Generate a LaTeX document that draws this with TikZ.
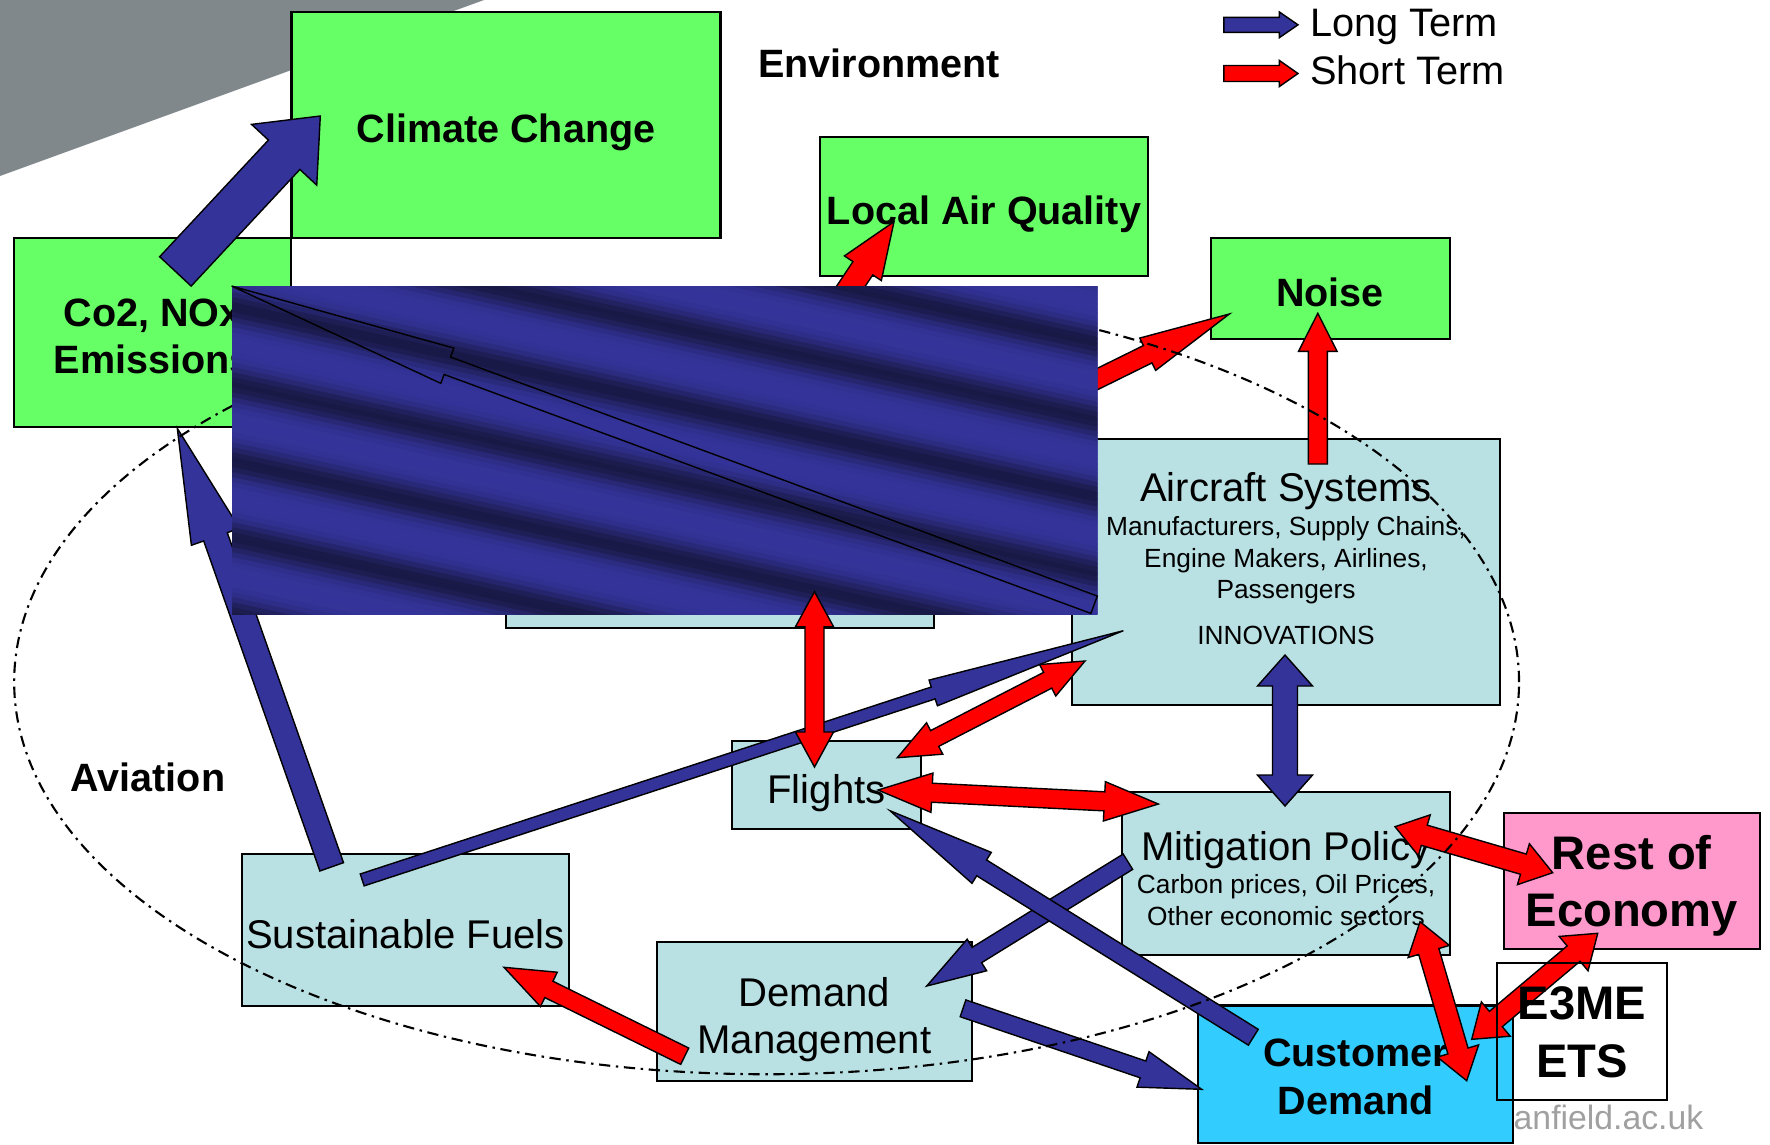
\documentclass[tikz,border=0pt]{standalone}
\usepackage{fontspec}
\setmainfont{Liberation Sans}
\usepackage{xcolor}
\usepackage{tikz}
\usetikzlibrary{calc}
\pgfdeclarelayer{nodelayer}
\pgfdeclarelayer{edgelayer}
\pgfsetlayers{nodelayer,edgelayer,main}
\definecolor{envgreen}{RGB}{102,255,102}
\definecolor{aviblue}{RGB}{185,224,227}
\definecolor{custcyan}{RGB}{51,204,255}
\definecolor{econpink}{RGB}{255,153,204}
\definecolor{longblue}{RGB}{51,51,153}
\definecolor{shortred}{RGB}{255,0,0}
\definecolor{slidegray}{RGB}{128,136,140}
\definecolor{banddark}{RGB}{25,25,70}
\definecolor{webgray}{RGB}{160,160,160}
\tikzset{
	fat shaft/.code={\pgfmathsetlengthmacro\fatshaft{#1*0.005cm}},
	fat head/.code={\pgfmathsetlengthmacro\fathead{#1*0.005cm}},
	fat tip/.code={\pgfmathsetlengthmacro\fattip{#1*0.01cm}},
	fat shaft=20, fat head=40, fat tip=40
}
\tikzstyle{fat arrow}=[to path={
	($(\tikztotarget)!\fattip!(\tikztostart)$) coordinate (fatP)
	($(\tikztostart)!\fatshaft!90:(\tikztotarget)$)
	-- ($(fatP)!\fatshaft!90:(\tikztotarget)$)
	-- ($(fatP)!\fathead!90:(\tikztotarget)$)
	-- (\tikztotarget)
	-- ($(fatP)!\fathead!-90:(\tikztotarget)$)
	-- ($(fatP)!\fatshaft!-90:(\tikztotarget)$)
	-- ($(\tikztostart)!\fatshaft!-90:(\tikztotarget)$)
	-- cycle}]
\tikzstyle{fat double}=[to path={
	($(\tikztotarget)!\fattip!(\tikztostart)$) coordinate (fatP)
	($(\tikztostart)!\fattip!(\tikztotarget)$) coordinate (fatQ)
	(\tikztostart)
	-- ($(fatQ)!\fathead!90:(\tikztotarget)$)
	-- ($(fatQ)!\fatshaft!90:(\tikztotarget)$)
	-- ($(fatP)!\fatshaft!90:(\tikztotarget)$)
	-- ($(fatP)!\fathead!90:(\tikztotarget)$)
	-- (\tikztotarget)
	-- ($(fatP)!\fathead!-90:(\tikztotarget)$)
	-- ($(fatP)!\fatshaft!-90:(\tikztotarget)$)
	-- ($(fatQ)!\fatshaft!-90:(\tikztotarget)$)
	-- ($(fatQ)!\fathead!-90:(\tikztotarget)$)
	-- cycle}]
\tikzstyle{green box}=[fill=envgreen, draw=black, shape=rectangle, line width=0.6pt, inner sep=0pt, text height=10.2pt, text depth=0pt, align=center, font=\fontsize{11.24}{13.5}\selectfont\bfseries]
\tikzstyle{blue box}=[fill=aviblue, draw=black, shape=rectangle, line width=0.6pt, inner sep=0pt, text height=10.3pt, text depth=0pt, align=center, font=\fontsize{11.4}{13.5}\selectfont]
\tikzstyle{cyan box}=[fill=custcyan, draw=black, shape=rectangle, line width=0.6pt, inner sep=0pt, text depth=0pt, align=center, font=\fontsize{11.24}{13.5}\selectfont\bfseries]
\tikzstyle{pink box}=[fill=econpink, draw=black, shape=rectangle, line width=0.6pt, inner sep=0pt, text depth=0pt, align=center, font=\fontsize{13.4}{16.4}\selectfont\bfseries]
\tikzstyle{white box}=[fill=none, draw=black, shape=rectangle, line width=0.6pt, inner sep=0pt, text depth=0pt, align=center, font=\fontsize{13.4}{16.4}\selectfont\bfseries]
\tikzstyle{small text}=[inner sep=0pt, text depth=0pt, align=center, font=\fontsize{7.48}{9}\selectfont]
\tikzstyle{heading}=[inner sep=0pt, font=\fontsize{11.24}{13.5}\selectfont\bfseries]
\tikzstyle{legend}=[inner sep=0pt, font=\fontsize{11.3}{13.5}\selectfont]
\tikzstyle{web}=[inner sep=0pt, text=webgray, font=\fontsize{9.6}{11}\selectfont]
\tikzstyle{none}=[fill=none, draw=none, shape=circle, scale=0]
\tikzstyle{long term}=[fill=longblue, draw=black, line width=0.4pt]
\tikzstyle{short term}=[fill=shortred, draw=black, line width=0.4pt]
\tikzstyle{aviation ring}=[draw=black, line width=0.6pt, dash pattern=on 3.2pt off 1.6pt on 0.7pt off 1.6pt]

\begin{document}
\begin{tikzpicture}[x=0.01cm, y=-0.01cm]
	\useasboundingbox (0,0) rectangle (1770,1144);
	\begin{pgfonlayer}{nodelayer}
		\fill [slidegray] (0,0) -- (484,0) -- (0,176) -- cycle;
		\node [style=green box, minimum width=4.288cm, minimum height=2.26cm] (0) at (506, 124.7) {Climate Change};
		\node [style=green box, minimum width=2.766cm, minimum height=1.89cm, text height=23.5pt] (1) at (152.7, 332.2) {Co2, NOx\\Emissions};
		\node [style=green box, minimum width=3.28cm, minimum height=1.39cm] (2) at (984, 206.2) {Local Air Quality};
		\node [style=green box, minimum width=2.388cm, minimum height=1.01cm] (3) at (1330.1, 288.8) {Noise};
		\node [style=blue box, minimum width=4.281cm, minimum height=0.677cm] (4) at (719.8, 593.9) {};
		\node [style=blue box, minimum width=4.28cm, minimum height=2.655cm] (5) at (1286, 571.8) {};
		\node [style=small text] (6) at (1286, 558.4) {{\fontsize{11.4}{13.5}\selectfont Aircraft Systems}\\[0.6pt]Manufacturers, Supply Chains,\\Engine Makers, Airlines,\\Passengers\\[3.9pt]INNOVATIONS};
		\node [style=blue box, minimum width=1.884cm, minimum height=0.883cm] (7) at (826.5, 785.2) {Flights};
		\node [style=blue box, minimum width=3.274cm, minimum height=1.625cm, text height=29.6pt, font=\fontsize{7.48}{9}\selectfont] (8) at (1286, 873.3) {{\fontsize{11.4}{13.5}\selectfont Mitigation Policy}\\[0.5pt]Carbon prices, Oil Prices,\\Other economic sectors};
		\node [style=blue box, minimum width=3.276cm, minimum height=1.512cm] (9) at (405.5, 929.9) {Sustainable Fuels};
		\node [style=blue box, minimum width=3.147cm, minimum height=1.387cm, text height=23.8pt] (10) at (814.4, 1011.7) {Demand\\Management};
		\node [style=cyan box, minimum width=3.144cm, minimum height=1.37cm, text height=22.8pt] (11) at (1355.5, 1074) {Customer\\Demand};
		\node [style=pink box, minimum width=2.555cm, minimum height=1.366cm] (13) at (1631.8, 881) {Rest of\\Economy};
		\node [style=heading] (14) at (879, 63) {Environment};
		\node [style=heading] (15) at (148, 777) {Aviation};
		\node [style=legend, anchor=base west] (16) at (1309.4, 36) {Long Term};
		\node [style=legend, anchor=base west] (17) at (1309.4, 84) {Short Term};
		\node [style=web, anchor=base west] (18) at (1513, 1129) {anfield.ac.uk};
		\node [style=none] (20) at (175.4, 271.4) {};
		\node [style=none] (21) at (320.3, 116) {};
		\node [style=none] (22) at (331.7, 866.8) {};
		\node [style=none] (23) at (177.3, 428.3) {};
		\node [style=none] (24) at (362.2, 879.9) {};
		\node [style=none] (25) at (1123.3, 630.7) {};
		\node [style=none] (26) at (1127.9, 861.7) {};
		\node [style=none] (27) at (926.7, 986) {};
		\node [style=none] (28) at (1253.3, 1037.2) {};
		\node [style=none] (29) at (890, 810.7) {};
		\node [style=none] (30) at (963, 1008.3) {};
		\node [style=none] (31) at (1201.7, 1089.3) {};
		\node [style=none] (32) at (1285, 655) {};
		\node [style=none] (33) at (1285, 806) {};
		\node [style=none] (34) at (667.7, 560) {};
		\node [style=none] (35) at (894, 221.7) {};
		\node [style=none] (36) at (870.5, 490.8) {};
		\node [style=none] (37) at (1229.3, 314) {};
		\node [style=none] (38) at (1317.8, 464) {};
		\node [style=none] (39) at (1317.8, 313.3) {};
		\node [style=none] (40) at (814.5, 591.7) {};
		\node [style=none] (41) at (814.5, 767) {};
		\node [style=none] (42) at (897.3, 757.7) {};
		\node [style=none] (43) at (1085, 661) {};
		\node [style=none] (44) at (878, 790) {};
		\node [style=none] (45) at (1158.3, 804) {};
		\node [style=none] (46) at (1395, 826.7) {};
		\node [style=none] (47) at (1552.7, 872.7) {};
		\node [style=none] (48) at (1420, 921.7) {};
		\node [style=none] (49) at (1466.7, 1080.7) {};
		\node [style=none] (50) at (1597.7, 933.3) {};
		\node [style=none] (51) at (1471.7, 1039.3) {};
		\node [style=none] (52) at (684.7, 1056.2) {};
		\node [style=none] (53) at (504, 967.3) {};
		\node [style=none] (54) at (1223.8, 24.8) {};
		\node [style=none] (55) at (1298, 24.8) {};
		\node [style=none] (56) at (1223.8, 73.5) {};
		\node [style=none] (57) at (1298, 73.5) {};
		\node [style=none] (58) at (1094.1, 604.7) {};
		\node [style=none] (59) at (231.6, 286) {};
	\end{pgfonlayer}
	\begin{pgfonlayer}{edgelayer}
		\draw [style=long term, fat arrow, fat shaft=43, fat head=89, fat tip=53] (20.center) to (21.center);
		\draw [style=long term, fat arrow, fat shaft=25, fat head=51, fat tip=115] (22.center) to (23.center);
		\draw [style=long term, fat arrow, fat shaft=12.5, fat head=27, fat tip=200] (24.center) to (25.center);
		\draw [style=long term, fat arrow, fat shaft=18, fat head=37, fat tip=59] (26.center) to (27.center);
		\draw [style=long term, fat arrow, fat shaft=18.6, fat head=36.4, fat tip=108] (28.center) to (29.center);
		\draw [style=long term, fat arrow, fat shaft=17.7, fat head=37.4, fat tip=62] (30.center) to (31.center);
		\draw [style=long term, fat double, fat shaft=25, fat head=55, fat tip=31] (32.center) to (33.center);
		\draw [style=short term, fat arrow, fat shaft=23.8, fat head=44.3, fat tip=56] (34.center) to (35.center);
		\draw [style=short term, fat arrow, fat shaft=19.3, fat head=36, fat tip=91] (36.center) to (37.center);
		\draw [style=short term, fat arrow, fat shaft=19, fat head=38.5, fat tip=38] (38.center) to (39.center);
		\draw [style=short term, fat double, fat shaft=17.7, fat head=35.3, fat tip=42] (42.center) to (43.center);
		\draw [style=short term, fat double, fat shaft=19, fat head=39.3, fat tip=54] (44.center) to (45.center);
		\draw [style=short term, fat double, fat shaft=21, fat head=42.5, fat tip=30.5] (46.center) to (47.center);
		\draw [style=short term, fat double, fat shaft=21, fat head=43, fat tip=31] (48.center) to (49.center);
		\draw [style=short term, fat double, fat shaft=20, fat head=44.8, fat tip=31.5] (50.center) to (51.center);
		\draw [style=short term, fat arrow, fat shaft=18.2, fat head=38.2, fat tip=50] (52.center) to (53.center);
		\draw [style=long term, fat arrow, fat shaft=15, fat head=25.6, fat tip=18.6] (54.center) to (55.center);
		\draw [style=short term, fat arrow, fat shaft=16, fat head=26, fat tip=18.6] (56.center) to (57.center);
	\end{pgfonlayer}
	\draw [style=aviation ring] (766.6, 682) ellipse [x radius=7.52cm, y radius=3.92cm];
	\begin{scope}
		\clip (232, 286) rectangle (1097.7, 614);
		\fill [longblue] (232, 286) rectangle (1097.7, 614);
		\foreach \s in {0,...,110} {
			\pgfmathsetmacro\yy{90+5*\s}
			\pgfmathsetmacro\bandmix{100*(0.5+0.5*cos(4.68*\yy))^2}
			\draw [banddark!\bandmix!longblue, line width=0.6mm] (232, \yy) -- (1097.7, \yy+190);
		}
	\end{scope}
	\draw [fill=none, draw=black, line width=0.4pt, fat arrow, fat shaft=18.5, fat head=37.5, fat tip=230] (58.center) to (59.center);
	\draw [style=short term, fat double, fat shaft=19, fat head=38, fat tip=35] (40.center) to (41.center);
	\node [style=white box, minimum width=1.707cm, minimum height=1.37cm] (12) at (1582, 1031.8) {E3ME\\ETS};
\end{tikzpicture}
\end{document}
